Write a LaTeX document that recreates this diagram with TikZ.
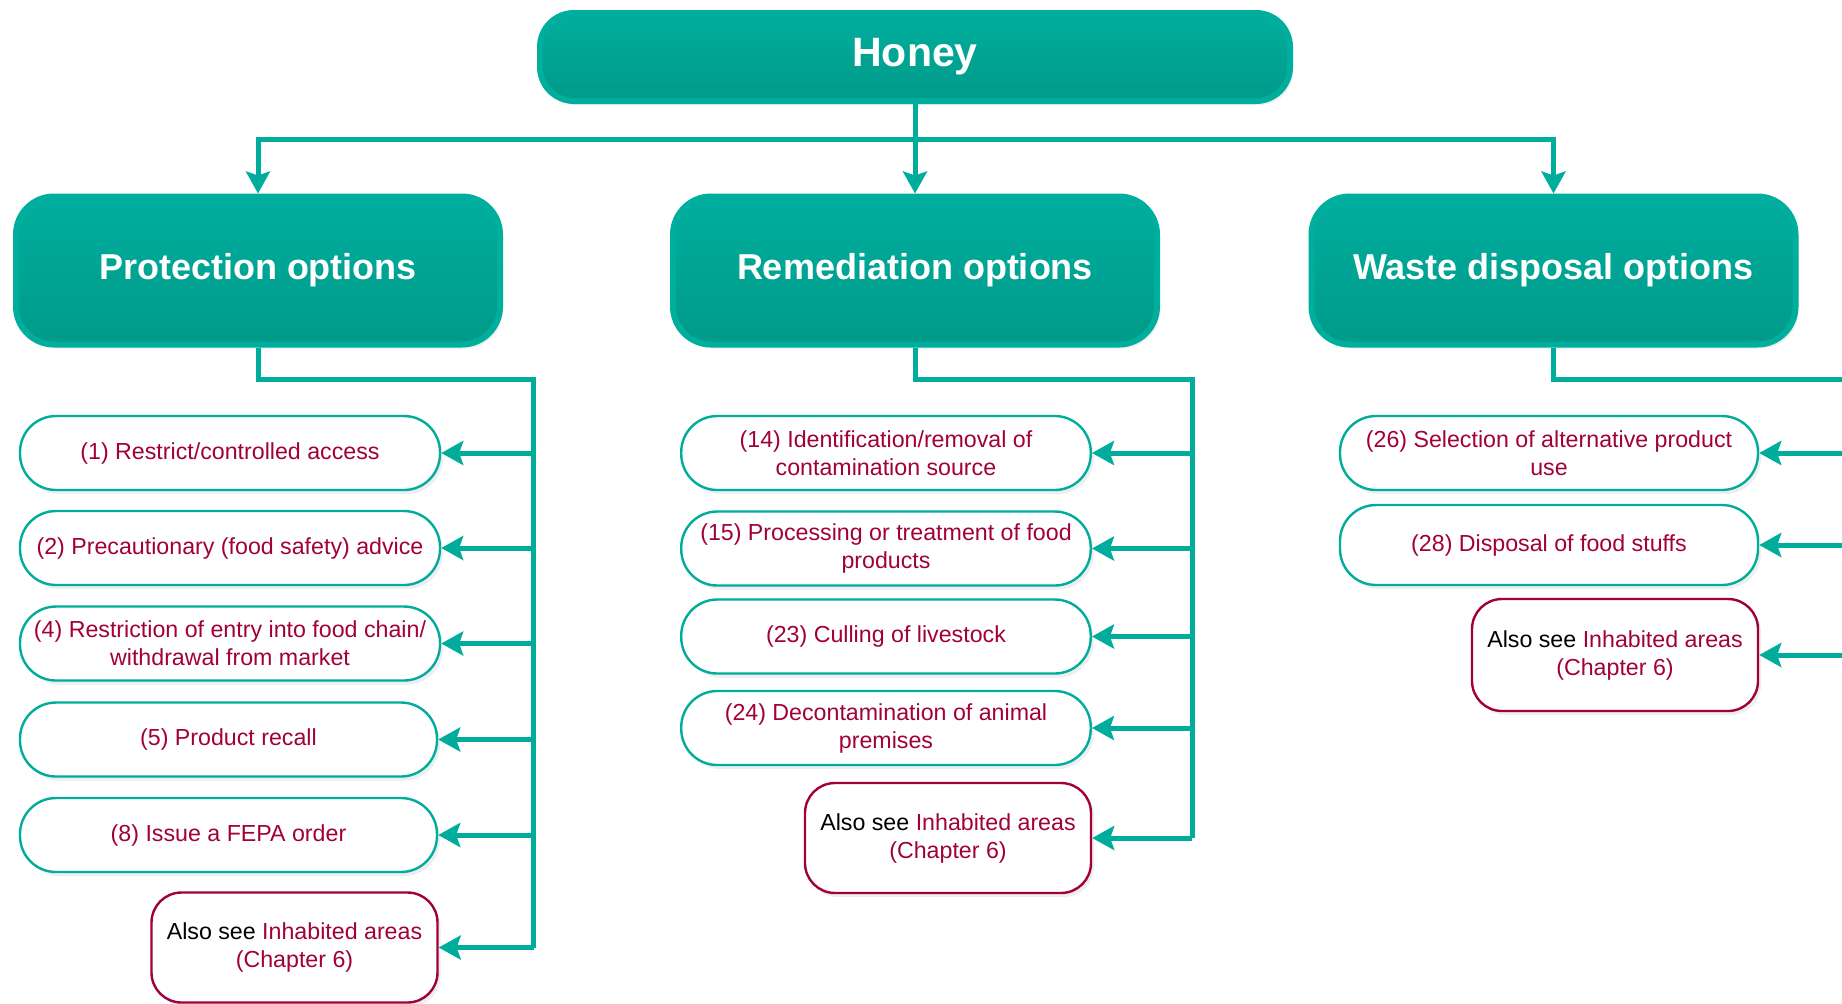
\documentclass[tikz,border=0pt]{standalone}
\usepackage{fontspec}
\setmainfont{Liberation Sans}
\usetikzlibrary{arrows.meta, shadows}

\definecolor{tealtop}{HTML}{00AE9D}
\definecolor{tealbottom}{HTML}{009A8A}
\definecolor{tealline}{HTML}{00AC9C}
\definecolor{optred}{HTML}{A1003A}

\tikzset{
  boxshadow/.style={drop shadow={shadow xshift=1.5pt, shadow yshift=-2pt, fill=black!13}},
  headbox/.style={rounded corners=17pt, draw=tealtop, line width=3pt,
    top color=tealtop, bottom color=tealbottom, text=white, boxshadow},
  groupbox/.style={headbox, rounded corners=19pt, minimum width=242pt, minimum height=74pt,
    font=\bfseries\fontsize{18}{21}\selectfont},
  optbox/.style={rounded corners=18pt, draw=tealline, line width=1.2pt, fill=white,
    text=optred, align=center, font=\fontsize{11.6}{14}\selectfont, boxshadow},
  seebox/.style={optbox, draw=optred, rounded corners=15pt, minimum width=143pt, minimum height=55pt},
  link/.style={draw=tealline, line width=2.5pt},
  linkarrow/.style={link, -{Stealth[length=11pt, width=12pt, inset=2pt]}},
}

\newcommand{\alsosee}{{\color{black}Also see} Inhabited areas\\(Chapter 6)}

\begin{document}
\begin{tikzpicture}[x=0.5pt, y=-0.5pt]
  \useasboundingbox (0,0) rectangle (1842,1003);

  % Top and option groups
  \node[headbox, minimum width=375pt, minimum height=44pt,
    font=\bfseries\fontsize{20.5}{24}\selectfont] (honey) at (915,57) {Honey};
  \node[groupbox] (prot) at (258,270.5) {Protection options};
  \node[groupbox] (remed) at (915,270.5) {Remediation options};
  \node[groupbox] (waste) at (1553.5,270.5) {Waste disposal options};

  % Protection options
  \node[optbox, minimum width=210pt, minimum height=37pt] (p1) at (230,453) {(1) Restrict/controlled access};
  \node[optbox, minimum width=210pt, minimum height=37pt] (p2) at (230,548) {(2) Precautionary (food safety) advice};
  \node[optbox, minimum width=210pt, minimum height=37pt] (p4) at (230,643.5) {(4) Restriction of entry into food chain/\\withdrawal from market};
  \node[optbox, minimum width=208.5pt, minimum height=37pt] (p5) at (228.5,739.5) {(5) Product recall};
  \node[optbox, minimum width=208.5pt, minimum height=37pt] (p8) at (228.5,835) {(8) Issue a FEPA order};
  \node[seebox] (psee) at (294.5,947.5) {\alsosee};

  % Remediation options
  \node[optbox, minimum width=204.75pt, minimum height=37pt] (r14) at (886,453) {(14) Identification/removal of\\contamination source};
  \node[optbox, minimum width=204.75pt, minimum height=37pt] (r15) at (886,548.5) {(15) Processing or treatment of food\\products};
  \node[optbox, minimum width=204.75pt, minimum height=37pt] (r23) at (886,636.5) {(23) Culling of livestock};
  \node[optbox, minimum width=204.75pt, minimum height=37pt] (r24) at (886,728) {(24) Decontamination of animal\\premises};
  \node[seebox] (rsee) at (948,838) {\alsosee};

  % Waste disposal options
  \node[optbox, minimum width=209pt, minimum height=37pt] (w26) at (1549,453) {(26) Selection of alternative product\\use};
  \node[optbox, minimum width=209pt, minimum height=40pt] (w28) at (1549,545) {(28) Disposal of food stuffs};
  \node[seebox, minimum height=56pt] (wsee) at (1615,655) {\alsosee};

  % Spine points
  \coordinate (bar) at (915,139.5);
  \coordinate (pcorner) at (533.5,379);
  \coordinate (pend) at (533.5,948);
  \coordinate (rcorner) at (1192,379);
  \coordinate (rend) at (1192,838);
  \coordinate (wspine) at (1842,379);

  % Honey to groups
  \draw[link] (honey.south) -- (bar);
  \draw[linkarrow] (bar) -| (prot.north);
  \draw[linkarrow] (bar) -- (remed.north);
  \draw[linkarrow] (bar) -| (waste.north);

  % Groups to options
  \draw[link] (prot.south) |- (pcorner) -- (pend);
  \draw[link] (remed.south) |- (rcorner) -- (rend);
  \draw[link] (waste.south) |- (wspine);
  \foreach \n in {p1,p2,p4,p5,p8,psee}
    \draw[linkarrow] (pcorner |- \n.east) -- (\n.east);
  \foreach \n in {r14,r15,r23,r24,rsee}
    \draw[linkarrow] (rcorner |- \n.east) -- (\n.east);
  \foreach \n in {w26,w28,wsee}
    \draw[linkarrow] (wspine |- \n.east) -- (\n.east);
\end{tikzpicture}
\end{document}
